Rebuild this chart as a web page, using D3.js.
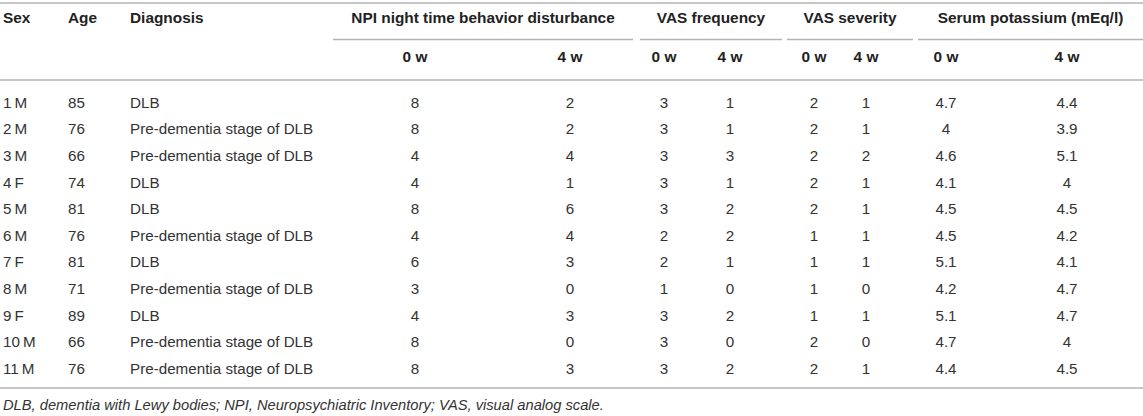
<!DOCTYPE html>
<html lang="en">
<head>
  <meta charset="UTF-8">
  <title>Patient table</title>
  <script src="https://d3js.org/d3.v7.min.js"></script>
  <style>
    body { margin: 0; background: #fff; font-family: "Liberation Sans", Arial, sans-serif; }
    svg { display: block; }
    .rule { stroke: #b3b3b3; stroke-width: 1.6px; }
    .head { font-weight: bold; fill: #222; font-size: 15.4px; }
    .cell { fill: #333; font-size: 15.2px; }
    .note { fill: #333; font-size: 14.7px; font-style: italic; }
  </style>
</head>
<body>
<svg id="tbl" width="1143" height="416"></svg>
<script>
// table values
const patients = ["1\u2009M", "2\u2009M", "3\u2009M", "4\u2009F", "5\u2009M", "6\u2009M", "7\u2009F", "8\u2009M", "9\u2009F", "10\u2009M", "11\u2009M"];
const ages = [85, 76, 66, 74, 81, 76, 81, 71, 89, 66, 76];
const diagnoses = ["DLB", "Pre-dementia stage of DLB", "Pre-dementia stage of DLB", "DLB", "DLB",
  "Pre-dementia stage of DLB", "DLB", "Pre-dementia stage of DLB", "DLB",
  "Pre-dementia stage of DLB", "Pre-dementia stage of DLB"];
const npi0 = [8, 8, 4, 4, 8, 4, 6, 3, 4, 8, 8];
const npi4 = [2, 2, 4, 1, 6, 4, 3, 0, 3, 0, 3];
const vasFreq0 = [3, 3, 3, 3, 3, 2, 2, 1, 3, 3, 3];
const vasFreq4 = [1, 1, 3, 1, 2, 2, 1, 0, 2, 0, 2];
const vasSev0 = [2, 2, 2, 2, 2, 1, 1, 1, 1, 2, 2];
const vasSev4 = [1, 1, 2, 1, 1, 1, 1, 0, 1, 0, 1];
const potassium0 = [4.7, 4, 4.6, 4.1, 4.5, 4.5, 5.1, 4.2, 5.1, 4.7, 4.4];
const potassium4 = [4.4, 3.9, 5.1, 4, 4.5, 4.2, 4.1, 4.7, 4.7, 4, 4.5];

const leftHeaders = ["Sex", "Age", "Diagnosis"];
const groupHeaders = ["NPI night time behavior disturbance", "VAS frequency", "VAS severity", "Serum potassium (mEq/l)"];
const subHeaders = ["0 w", "4 w"];
const footnote = "DLB, dementia with Lewy bodies; NPI, Neuropsychiatric Inventory; VAS, visual analog scale.";

const svg = d3.select("#tbl");

// column layout
const leftX = d3.scaleOrdinal().domain(leftHeaders).range([3, 68, 130]);
const groupSpan = d3.scaleOrdinal().domain(groupHeaders)
  .range([[333, 633], [640, 782], [787, 913], [918, 1143]]);
const valueCols = [npi0, npi4, vasFreq0, vasFreq4, vasSev0, vasSev4, potassium0, potassium4];
const colX = d3.scaleOrdinal().domain(d3.range(valueCols.length))
  .range([415, 570, 664, 730, 814, 866, 946, 1067]);

const rowY = d3.scaleBand().domain(d3.range(patients.length)).range([89, 382]);

// rules
svg.append("line").attr("class", "rule").attr("x1", 0).attr("x2", 1143).attr("y1", 3).attr("y2", 3);
svg.append("line").attr("class", "rule").attr("x1", 0).attr("x2", 1143).attr("y1", 80).attr("y2", 80);
svg.append("line").attr("class", "rule").attr("x1", 0).attr("x2", 1143).attr("y1", 388).attr("y2", 388);

// header
svg.selectAll(".lh").data(leftHeaders).join("text")
  .attr("class", "head").attr("x", d => leftX(d)).attr("y", 18).attr("dy", "0.35em").text(d => d);

svg.selectAll(".gh").data(groupHeaders).join("text")
  .attr("class", "head")
  .attr("x", d => (groupSpan(d)[0] + groupSpan(d)[1]) / 2)
  .attr("y", 18).attr("dy", "0.35em").attr("text-anchor", "middle").text(d => d);

svg.selectAll(".gl").data(groupHeaders).join("line")
  .attr("class", "rule")
  .attr("x1", d => groupSpan(d)[0]).attr("x2", d => groupSpan(d)[1])
  .attr("y1", 39.5).attr("y2", 39.5);

svg.selectAll(".sh").data(d3.range(valueCols.length)).join("text")
  .attr("class", "head").attr("x", i => colX(i)).attr("y", 57).attr("dy", "0.35em")
  .attr("text-anchor", "middle").text(i => subHeaders[i % 2]);

// body rows
const rows = svg.selectAll("g.row").data(d3.range(patients.length)).join("g")
  .attr("transform", i => `translate(0,${rowY(i) + rowY.bandwidth() / 2})`);

rows.append("text").attr("class", "cell").attr("x", leftX("Sex")).attr("dy", "0.35em").text(i => patients[i]);
rows.append("text").attr("class", "cell").attr("x", leftX("Age")).attr("dy", "0.35em").text(i => ages[i]);
rows.append("text").attr("class", "cell").attr("x", leftX("Diagnosis")).attr("dy", "0.35em").text(i => diagnoses[i]);

rows.selectAll("text.v").data(i => valueCols.map((c, j) => ({ j, v: c[i] }))).join("text")
  .attr("class", "cell v").attr("x", d => colX(d.j)).attr("dy", "0.35em")
  .attr("text-anchor", "middle").text(d => d.v);

svg.append("text").attr("class", "note").attr("x", 3).attr("y", 405).attr("dy", "0.35em").text(footnote);
</script>
</body>
</html>
